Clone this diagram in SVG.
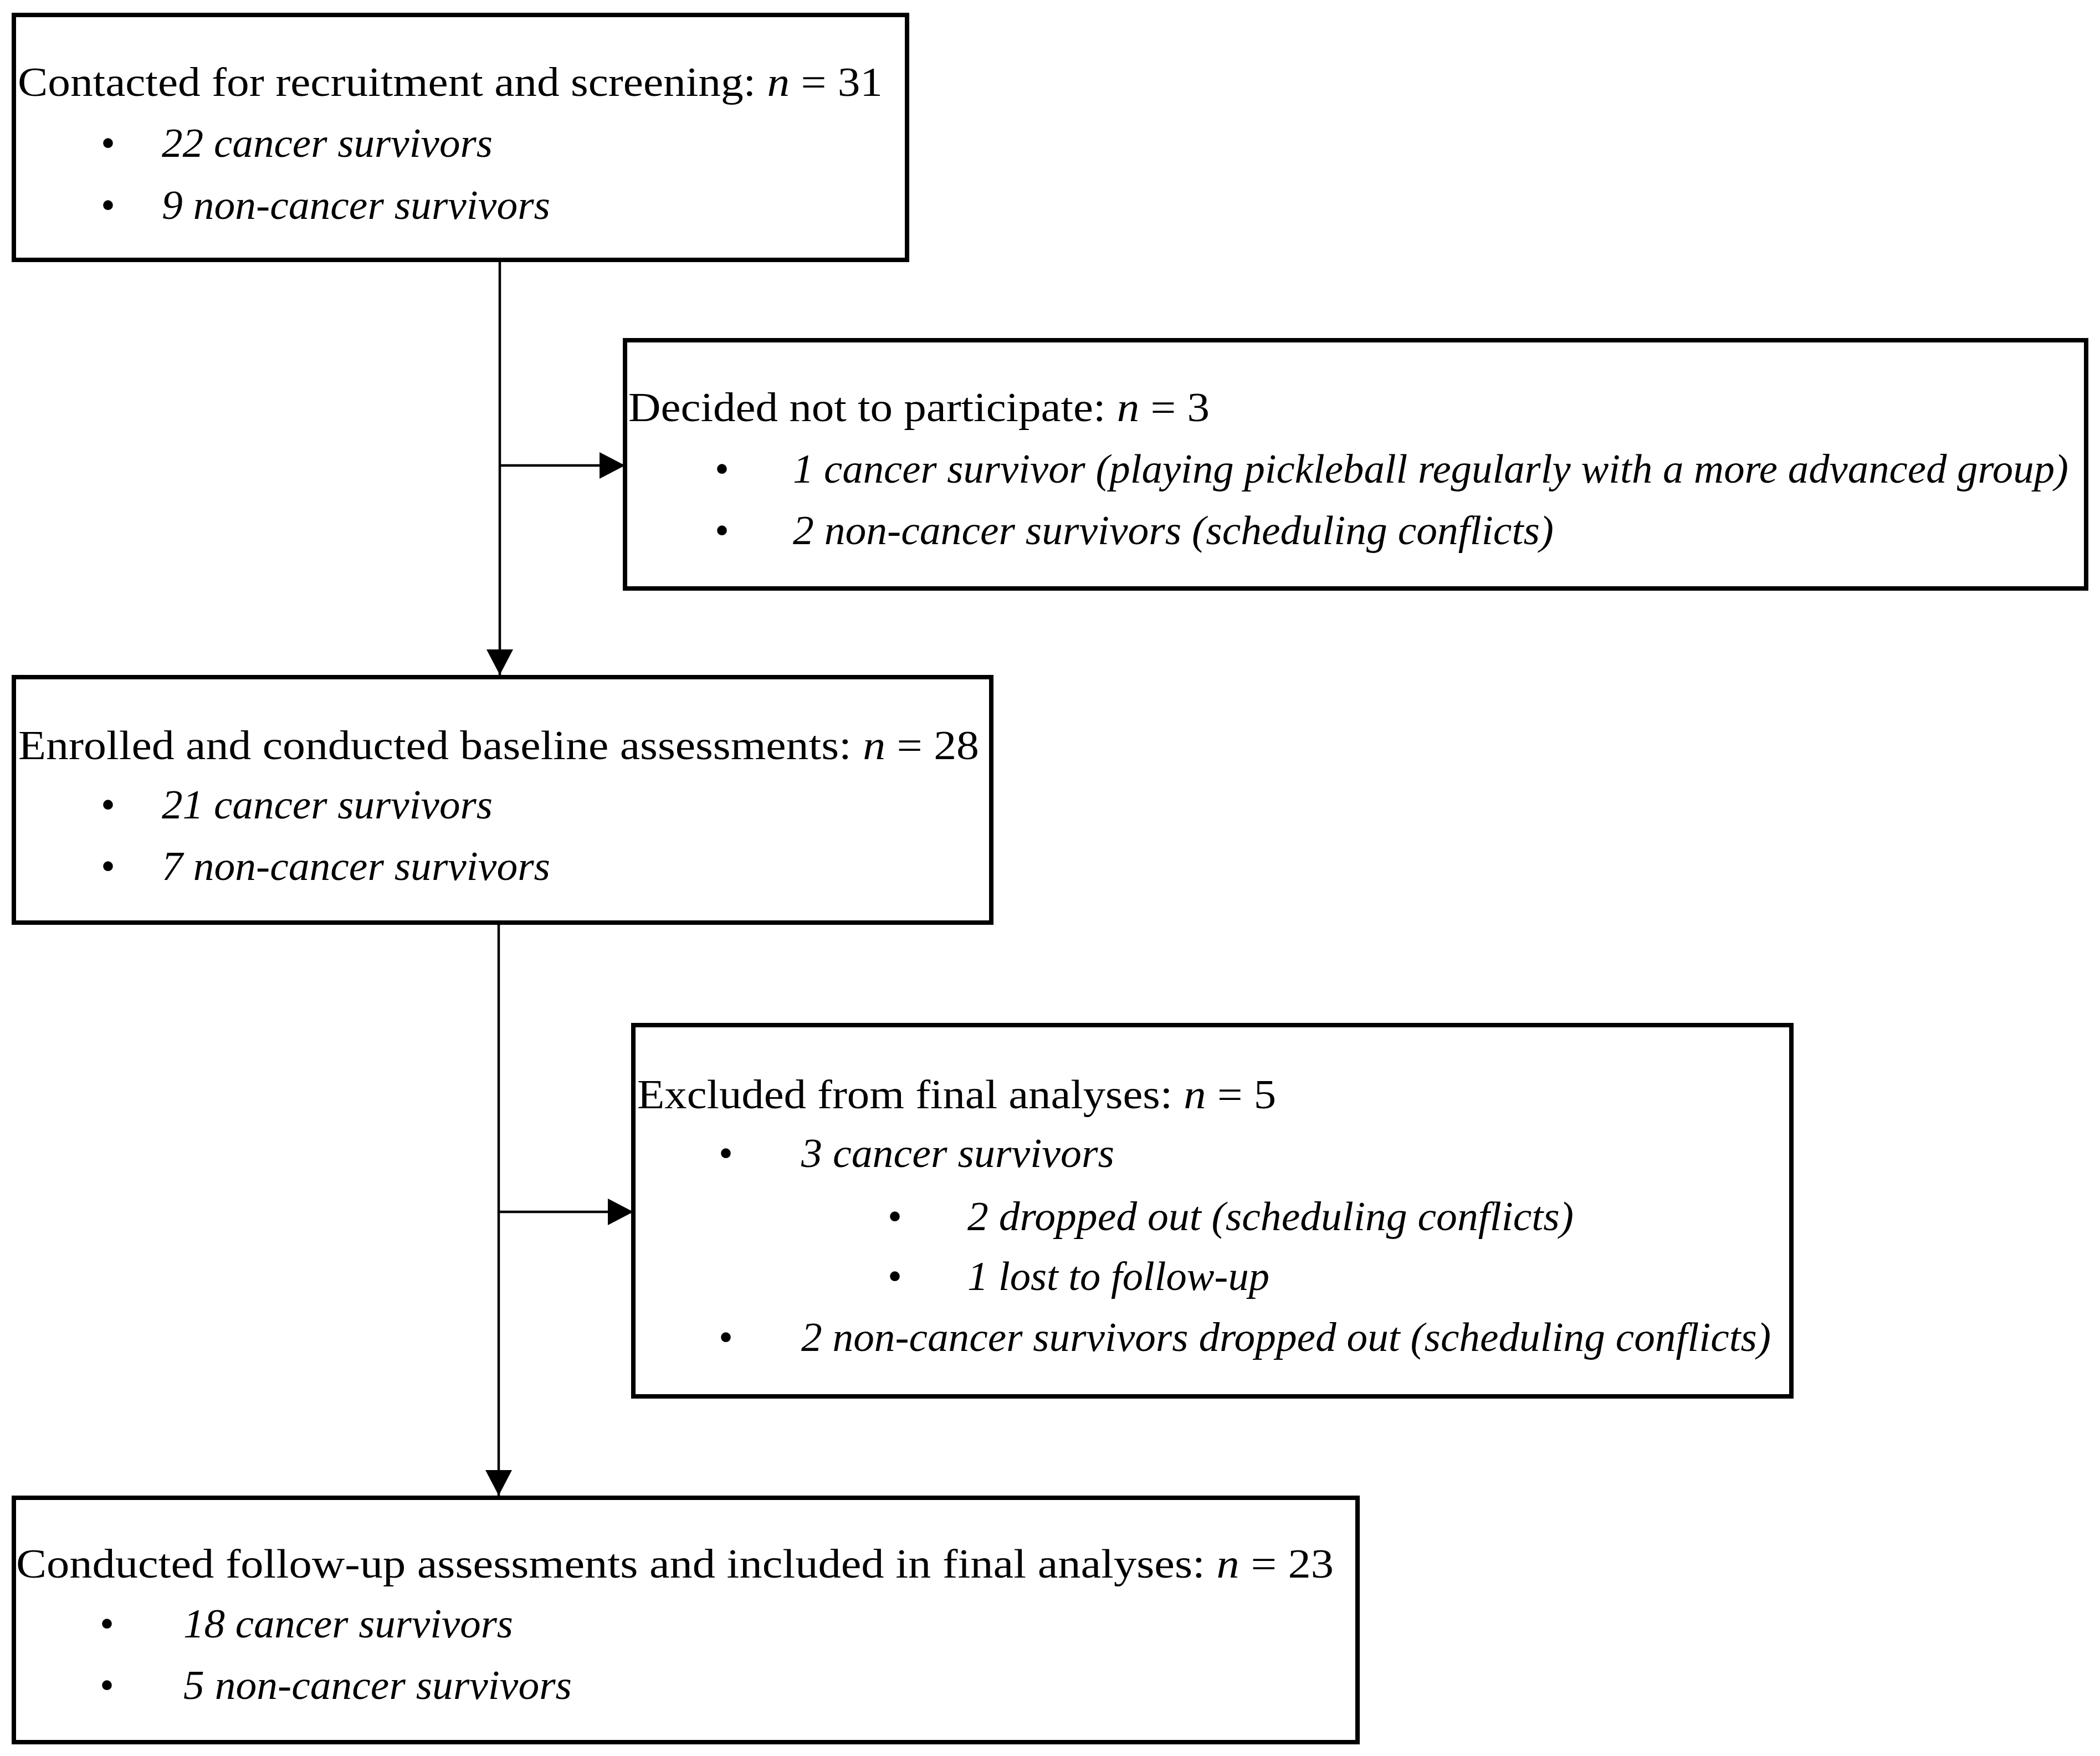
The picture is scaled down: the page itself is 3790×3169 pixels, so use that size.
<svg xmlns="http://www.w3.org/2000/svg" width="3790" height="3169" viewBox="0 0 3790 3169">
<style>
.box{fill:#fff;stroke:#000;stroke-width:8}
.t{font-family:"Liberation Serif","Times New Roman",serif;font-size:74px;fill:#000}
.i{font-style:italic}
.b{font-family:"Liberation Serif","Times New Roman",serif;font-size:74px;fill:#000;text-anchor:middle}
.c{stroke:#000;stroke-width:4.5;fill:none}
</style>
<defs>
<marker id="ah" markerUnits="userSpaceOnUse" markerWidth="50" markerHeight="50" refX="46" refY="24" orient="auto">
<path d="M0,0 L46,24 L0,48 Z" fill="#000"/>
</marker>
</defs>
<rect width="3790" height="3169" fill="#fff"/>
<g id="connectors">
<line class="c" x1="902" y1="469" x2="902" y2="1218" marker-end="url(#ah)"/>
<line class="c" x1="902" y1="840" x2="1128" y2="840" marker-end="url(#ah)"/>
<line class="c" x1="900" y1="1665" x2="900" y2="2699" marker-end="url(#ah)"/>
<line class="c" x1="900" y1="2187" x2="1143" y2="2187" marker-end="url(#ah)"/>
</g>
<g id="n1">
<rect class="box" x="25" y="27" width="1612" height="442"/>
<text class="t" x="32" y="173" textLength="1561" lengthAdjust="spacingAndGlyphs">Contacted for recruitment and screening: <tspan class="i">n</tspan> = 31</text>
<text class="b" x="195" y="283">•</text>
<text class="t i" x="292" y="283" textLength="597" lengthAdjust="spacingAndGlyphs">22 cancer survivors</text>
<text class="b" x="195" y="395">•</text>
<text class="t i" x="292" y="395" textLength="701" lengthAdjust="spacingAndGlyphs">9 non-cancer survivors</text>
</g>
<g id="n2">
<rect class="box" x="1128" y="614" width="2637" height="448"/>
<text class="t" x="1134" y="760" textLength="1049" lengthAdjust="spacingAndGlyphs">Decided not to participate: <tspan class="i">n</tspan> = 3</text>
<text class="b" x="1303" y="871">•</text>
<text class="t i" x="1431" y="871" textLength="2302" lengthAdjust="spacingAndGlyphs">1 cancer survivor (playing pickleball regularly with a more advanced group)</text>
<text class="b" x="1303" y="982">•</text>
<text class="t i" x="1431" y="982" textLength="1373" lengthAdjust="spacingAndGlyphs">2 non-cancer survivors (scheduling conflicts)</text>
</g>
<g id="n3">
<rect class="box" x="25" y="1222" width="1764" height="443"/>
<text class="t" x="33" y="1370" textLength="1734" lengthAdjust="spacingAndGlyphs">Enrolled and conducted baseline assessments: <tspan class="i">n</tspan> = 28</text>
<text class="b" x="195" y="1477">•</text>
<text class="t i" x="292" y="1477" textLength="597" lengthAdjust="spacingAndGlyphs">21 cancer survivors</text>
<text class="b" x="195" y="1588">•</text>
<text class="t i" x="292" y="1588" textLength="701" lengthAdjust="spacingAndGlyphs">7 non-cancer survivors</text>
</g>
<g id="n4">
<rect class="box" x="1143" y="1850" width="2090" height="670"/>
<text class="t" x="1150" y="2000" textLength="1153" lengthAdjust="spacingAndGlyphs">Excluded from final analyses: <tspan class="i">n</tspan> = 5</text>
<text class="b" x="1310" y="2106">•</text>
<text class="t i" x="1446" y="2106" textLength="565" lengthAdjust="spacingAndGlyphs">3 cancer survivors</text>
<text class="b" x="1615" y="2220">•</text>
<text class="t i" x="1746" y="2220" textLength="1094" lengthAdjust="spacingAndGlyphs">2 dropped out (scheduling conflicts)</text>
<text class="b" x="1615" y="2328">•</text>
<text class="t i" x="1746" y="2328" textLength="545" lengthAdjust="spacingAndGlyphs">1 lost to follow-up</text>
<text class="b" x="1310" y="2438">•</text>
<text class="t i" x="1446" y="2438" textLength="1750" lengthAdjust="spacingAndGlyphs">2 non-cancer survivors dropped out (scheduling conflicts)</text>
</g>
<g id="n5">
<rect class="box" x="25" y="2703" width="2425" height="441"/>
<text class="t" x="29" y="2847" textLength="2378" lengthAdjust="spacingAndGlyphs">Conducted follow-up assessments and included in final analyses: <tspan class="i">n</tspan> = 23</text>
<text class="b" x="193" y="2955">•</text>
<text class="t i" x="331" y="2955" textLength="595" lengthAdjust="spacingAndGlyphs">18 cancer survivors</text>
<text class="b" x="193" y="3066">•</text>
<text class="t i" x="331" y="3066" textLength="701" lengthAdjust="spacingAndGlyphs">5 non-cancer survivors</text>
</g>
</svg>
